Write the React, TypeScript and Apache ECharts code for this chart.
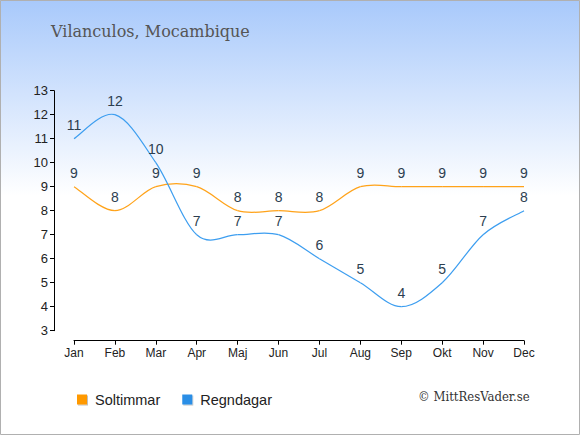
import React, { useEffect, useRef } from "react";
import * as echarts from "echarts";

const months = ["Jan", "Feb", "Mar", "Apr", "Maj", "Jun", "Jul", "Aug", "Sep", "Okt", "Nov", "Dec"];
const soltimmar = [9, 8, 9, 9, 8, 8, 8, 9, 9, 9, 9, 9];
const regndagar = [11, 12, 10, 7, 7, 7, 6, 5, 4, 5, 7, 8];
const titleText = "Vilanculos, Mocambique";
const copyright = "© MittResVader.se";

const TENSION = 1 / 6;

function makeRenderItem(values: number[], color: string) {
  return (params: any, api: any) => {
    const i = params.dataIndex;
    const n = values.length;
    const pt = (j: number) => {
      const k = Math.max(0, Math.min(n - 1, j));
      return api.coord([k, values[k]]);
    };
    const p0 = pt(i - 1);
    const p1 = pt(i);
    const children: any[] = [];
    if (i < n - 1) {
      const p2 = pt(i + 1);
      const p3 = pt(i + 2);
      children.push({
        type: "bezierCurve",
        shape: {
          x1: p1[0],
          y1: p1[1],
          cpx1: p1[0] + (p2[0] - p0[0]) * TENSION,
          cpy1: p1[1] + (p2[1] - p0[1]) * TENSION,
          cpx2: p2[0] - (p3[0] - p1[0]) * TENSION,
          cpy2: p2[1] - (p3[1] - p1[1]) * TENSION,
          x2: p2[0],
          y2: p2[1],
        },
        style: { stroke: color, lineWidth: 1.2, fill: "none" },
        silent: true,
      });
    }
    children.push({
      type: "text",
      x: p1[0],
      y: p1[1] - 14,
      style: {
        text: String(values[i]),
        align: "center",
        verticalAlign: "middle",
        fill: "#2c3e50",
        fontSize: 14,
        fontFamily: "Liberation Sans, Arial, sans-serif",
      },
      z2: 10,
    });
    return { type: "group", children };
  };
}

export default function App() {
  const ref = useRef<HTMLDivElement>(null);
  useEffect(() => {
    const chart = echarts.init(ref.current!, null, { renderer: "svg" });
    chart.setOption({
      animation: false,
      backgroundColor: new echarts.graphic.LinearGradient(0, 0, 0, 1, [
        { offset: 0, color: "#a8c9fb" },
        { offset: 0.45, color: "#ffffff" },
        { offset: 1, color: "#ffffff" },
      ]),
      title: {
        text: titleText,
        left: 46,
        top: 18,
        textStyle: {
          fontFamily: "DejaVu Serif, serif",
          fontWeight: "normal",
          fontSize: 16,
          color: "#555555",
        },
      },
      legend: {
        left: 72,
        top: 387,
        itemWidth: 10,
        itemHeight: 10,
        itemGap: 22,
        icon: "rect",
        textStyle: {
          fontFamily: "Liberation Sans, Arial, sans-serif",
          fontSize: 14.5,
          color: "#222222",
          padding: [0, 0, 0, 3],
        },
        itemStyle: {
          shadowColor: "rgba(0,0,0,0.25)",
          shadowOffsetX: 1,
          shadowOffsetY: 1,
          shadowBlur: 1,
        },
        data: ["Soltimmar", "Regndagar"],
      },
      graphic: [
        {
          type: "rect",
          shape: { x: 0.5, y: 0.5, width: 579, height: 434 },
          style: { fill: "none", stroke: "#b0b0b0", lineWidth: 1 },
          silent: true,
        },
        {
          type: "text",
          left: 418,
          top: 390,
          style: {
            text: copyright,
            fontFamily: "DejaVu Serif Condensed, DejaVu Serif, serif",
            fontSize: 13,
            fill: "#333333",
          },
        },
      ],
      grid: { left: 74, right: 56, top: 90.7, bottom: 104.3, containLabel: false },
      xAxis: {
        type: "category",
        data: months,
        boundaryGap: false,
        offset: 10,
        axisLine: { lineStyle: { color: "#000", width: 1 } },
        axisTick: { show: true, length: 4, lineStyle: { color: "#000" } },
        axisLabel: {
          color: "#222",
          fontSize: 12,
          margin: 6,
          fontFamily: "Liberation Sans, Arial, sans-serif",
        },
        splitLine: { show: false },
      },
      yAxis: {
        type: "value",
        min: 3,
        max: 13,
        interval: 1,
        offset: 20,
        axisLine: { show: true, lineStyle: { color: "#000", width: 1 } },
        axisTick: { show: true, length: 4, lineStyle: { color: "#000" } },
        axisLabel: {
          color: "#222",
          fontSize: 13,
          margin: 6,
          fontFamily: "Liberation Sans, Arial, sans-serif",
        },
        splitLine: { show: false },
      },
      series: [
        {
          name: "Soltimmar",
          type: "custom",
          clip: false,
          data: soltimmar.map((v, i) => [i, v]),
          encode: { x: 0, y: 1 },
          itemStyle: { color: "#ff9900" },
          renderItem: makeRenderItem(soltimmar, "#ffa31a"),
        },
        {
          name: "Regndagar",
          type: "custom",
          clip: false,
          data: regndagar.map((v, i) => [i, v]),
          encode: { x: 0, y: 1 },
          itemStyle: { color: "#2a8ee6" },
          renderItem: makeRenderItem(regndagar, "#3d9ef0"),
        },
      ],
    });
    return () => chart.dispose();
  }, []);
  return (
    <div
      ref={ref}
      style={{ position: "absolute", left: 0, top: 0, width: 580, height: 435 }}
    />
  );
}
